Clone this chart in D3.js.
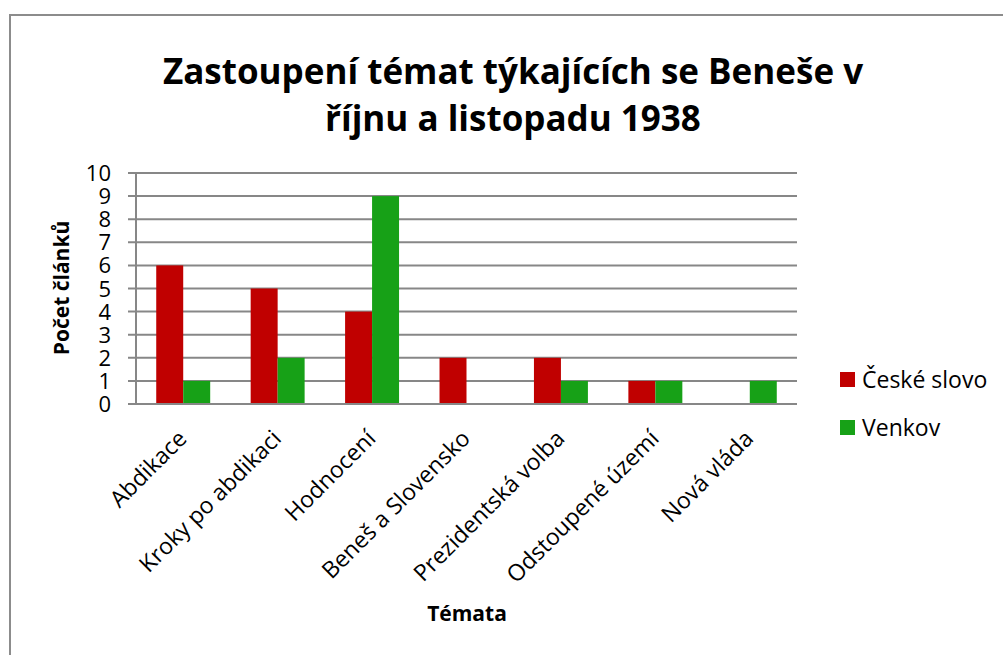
<!DOCTYPE html>
<html>
<head>
<meta charset="utf-8">
<script src="https://cdn.jsdelivr.net/npm/d3@7"></script>
<style>
  body { margin: 0; background: #fff; }
  text { font-family: "Open Sans", "Noto Sans", sans-serif; fill: #000; }
</style>
</head>
<body>
<svg id="chart" width="1003" height="655"></svg>
<script>
const categories = ["Abdikace", "Kroky po abdikaci", "Hodnocení", "Beneš a Slovensko",
  "Prezidentská volba", "Odstoupené území", "Nová vláda"];
const seriesNames = ["České slovo", "Venkov"];
const ceskeSlovo = [6, 5, 4, 2, 2, 1, 0];
const venkov = [1, 2, 9, 0, 1, 1, 1];
const yTicks = [0, 1, 2, 3, 4, 5, 6, 7, 8, 9, 10];
const colors = ["#c00000", "#17a117"];

const svg = d3.select("#chart");

// chart frame
svg.append("rect")
  .attr("x", 10).attr("y", 15)
  .attr("width", 1010).attr("height", 660)
  .attr("fill", "none")
  .attr("stroke", "#8c8c8c")
  .attr("stroke-width", 2);

const plotLeft = 136, plotRight = 797, plotTop = 173, plotBottom = 404;

const x = d3.scaleBand().domain(categories).range([plotLeft, plotRight]);
const inner = d3.scaleBand().domain(seriesNames)
  .range([0, x.bandwidth()]).paddingOuter(0.75);
const y = d3.scaleLinear().domain([0, 10]).range([plotBottom, plotTop]);

// gridlines
svg.append("g")
  .selectAll("line")
  .data(yTicks)
  .join("line")
  .attr("x1", plotLeft - 8).attr("x2", plotRight)
  .attr("y1", d => y(d)).attr("y2", d => y(d))
  .attr("stroke", "#878787")
  .attr("stroke-width", 2);

// y axis line
svg.append("line")
  .attr("x1", plotLeft).attr("x2", plotLeft)
  .attr("y1", plotTop).attr("y2", plotBottom)
  .attr("stroke", "#878787")
  .attr("stroke-width", 2);

// y tick labels
svg.append("g")
  .selectAll("text")
  .data(yTicks)
  .join("text")
  .attr("x", 111)
  .attr("y", d => y(d) + 8)
  .attr("text-anchor", "end")
  .attr("font-size", "22px")
  .text(d => d);

// bars
const series = [ceskeSlovo, venkov];
series.forEach((vals, si) => {
  svg.append("g")
    .selectAll("rect")
    .data(vals.map((v, i) => ({ cat: categories[i], v })))
    .join("rect")
    .attr("x", d => x(d.cat) + inner(seriesNames[si]))
    .attr("width", inner.bandwidth())
    .attr("y", d => y(d.v))
    .attr("height", d => plotBottom - y(d.v))
    .attr("fill", colors[si]);
});

// bottom axis line
svg.append("line")
  .attr("x1", plotLeft).attr("x2", plotRight)
  .attr("y1", plotBottom).attr("y2", plotBottom)
  .attr("stroke", "#878787")
  .attr("stroke-width", 2);

// category labels, rotated
svg.append("g")
  .selectAll("text")
  .data(categories)
  .join("text")
  .attr("text-anchor", "end")
  .attr("font-size", "23px")
  .attr("transform", d => `translate(${x(d) + x.bandwidth() / 2 + 5},${plotBottom + 36}) rotate(-45)`)
  .text(d => d);

// title
const title = svg.append("text")
  .attr("x", 513)
  .attr("text-anchor", "middle")
  .attr("font-weight", "bold")
  .attr("font-size", "35px");
title.append("tspan").attr("x", 513).attr("y", 84).text("Zastoupení témat týkajících se Beneše v");
title.append("tspan").attr("x", 513).attr("y", 131).text("říjnu a listopadu 1938");

// axis titles
svg.append("text")
  .attr("transform", "translate(69,288) rotate(-90)")
  .attr("text-anchor", "middle")
  .attr("font-weight", "bold")
  .attr("font-size", "21px")
  .text("Počet článků");

svg.append("text")
  .attr("x", 467).attr("y", 621)
  .attr("text-anchor", "middle")
  .attr("font-weight", "bold")
  .attr("font-size", "21px")
  .text("Témata");

// legend
const legend = svg.append("g")
  .selectAll("g")
  .data(seriesNames)
  .join("g")
  .attr("transform", (d, i) => `translate(840,${372 + i * 48})`);
legend.append("rect")
  .attr("width", 15).attr("height", 15)
  .attr("fill", (d, i) => colors[i]);
legend.append("text")
  .attr("x", 22).attr("y", 16)
  .attr("font-size", "23px")
  .text(d => d);
</script>
</body>
</html>
